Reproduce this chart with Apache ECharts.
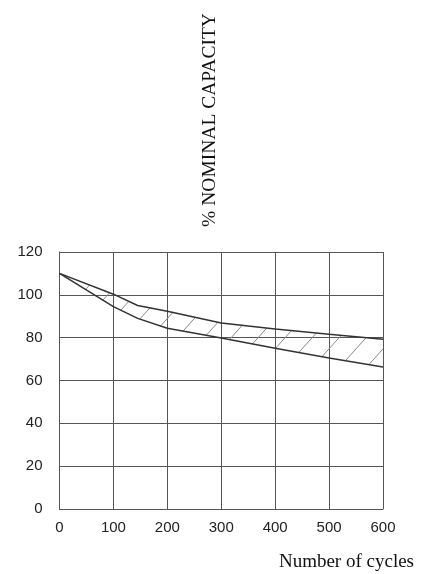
<!DOCTYPE html>
<html>
<head>
<meta charset="utf-8">
<script src="https://cdn.jsdelivr.net/npm/echarts@6/dist/echarts.min.js"></script>
<style>
  html, body { margin: 0; padding: 0; background: #fff; }
  #chart { width: 433px; height: 574px; }
</style>
</head>
<body>
<div id="chart"></div>
<script>
// capacity band vs cycle count
var cycles = [0, 100, 145, 200, 300, 400, 500, 600];
var upper = [110, 100.3, 95.0, 92.3, 86.8, 84.0, 81.6, 79.3];
var lower = [110, 94.5, 89.0, 84.4, 79.8, 75.1, 70.5, 66.3];
var xTicks = [0, 100, 200, 300, 400, 500, 600];
var yTicks = [0, 20, 40, 60, 80, 100, 120];

// hatch pattern for the band
function hatch() {
    var w = 27, h = 30, off = 22;
    var c = document.createElement('canvas');
    c.width = w; c.height = h;
    var ctx = c.getContext('2d');
    ctx.strokeStyle = '#888';
    ctx.lineWidth = 1;
    [-2, -1, 0, 1].forEach(function (k) {
        ctx.beginPath();
        ctx.moveTo(k * w + off, h);
        ctx.lineTo(k * w + off + w, 0);
        ctx.stroke();
    });
    return c;
}
var hatchCanvas = hatch();

var bandData = cycles.map(function (x, i) { return [x, upper[i], lower[i]]; });

var myChart = echarts.init(document.getElementById('chart'));

var option = {
    animation: false,
    grid: { left: 59.5, right: 50, top: 252, bottom: 65 },
    xAxis: {
        type: 'value',
        min: xTicks[0], max: xTicks[xTicks.length - 1], interval: 100,
        axisLine: { show: true, lineStyle: { color: '#555', width: 1 } },
        axisTick: { show: false },
        axisLabel: { color: '#222', fontFamily: 'Liberation Sans', fontSize: 15, margin: 11 },
        splitLine: { show: true, lineStyle: { color: '#555', width: 1 } }
    },
    yAxis: {
        type: 'value',
        min: yTicks[0], max: yTicks[yTicks.length - 1], interval: 20,
        axisLine: { show: true, lineStyle: { color: '#555', width: 1 } },
        axisTick: { show: false },
        axisLabel: { color: '#222', fontFamily: 'Liberation Sans', fontSize: 15, margin: 17 },
        splitLine: { show: true, lineStyle: { color: '#555', width: 1 } }
    },
    graphic: [
        {
            type: 'text',
            x: 210, y: 120,
            rotation: Math.PI / 2,
            style: {
                text: '% NOMINAL CAPACITY',
                font: '19.5px "Liberation Serif"',
                fill: '#111',
                textAlign: 'center',
                textVerticalAlign: 'middle'
            }
        },
        {
            type: 'text',
            x: 414, y: 562,
            style: {
                text: 'Number of cycles',
                font: '19px "Liberation Serif"',
                fill: '#111',
                textAlign: 'right',
                textVerticalAlign: 'middle'
            }
        }
    ],
    series: [
        {
            name: 'band',
            type: 'custom',
            data: bandData,
            encode: { x: 0, y: [1, 2] },
            z: 1,
            renderItem: function (params, api) {
                if (params.dataIndex !== 0) return;
                var top = cycles.map(function (x, i) { return api.coord([x, upper[i]]); });
                var bot = cycles.map(function (x, i) { return api.coord([x, lower[i]]); }).reverse();
                return {
                    type: 'polygon',
                    shape: { points: top.concat(bot) },
                    style: { fill: { image: hatchCanvas, repeat: 'repeat' }, stroke: null }
                };
            }
        },
        {
            name: 'upper',
            type: 'line',
            data: cycles.map(function (x, i) { return [x, upper[i]]; }),
            symbol: 'none',
            z: 3,
            lineStyle: { color: '#333', width: 1.5 }
        },
        {
            name: 'lower',
            type: 'line',
            data: cycles.map(function (x, i) { return [x, lower[i]]; }),
            symbol: 'none',
            z: 3,
            lineStyle: { color: '#333', width: 1.5 }
        }
    ]
};

myChart.setOption(option);
</script>
</body>
</html>
